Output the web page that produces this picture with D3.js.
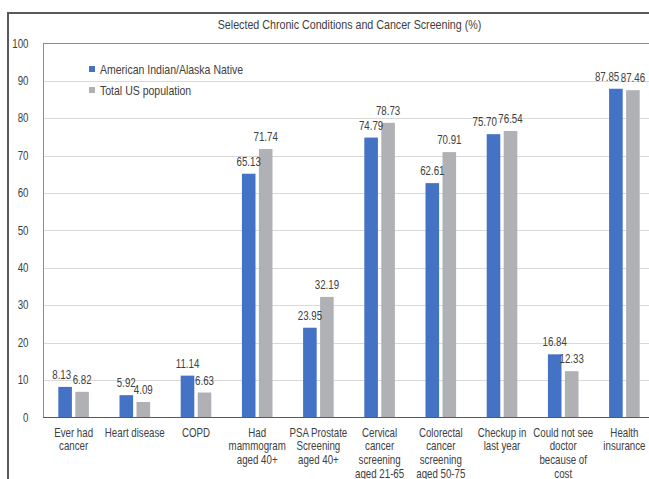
<!DOCTYPE html>
<html>
<head>
<meta charset="utf-8">
<script src="https://cdn.jsdelivr.net/npm/d3@7"></script>
<style>
  html, body { margin: 0; padding: 0; background: #fff; }
  svg { display: block; }
  text { font-family: "Liberation Sans", Arial, sans-serif; }
</style>
</head>
<body>
<svg id="chart" width="649" height="479"></svg>
<script>
const title = "Selected Chronic Conditions and Cancer Screening (%)";
const categories = [
  "Ever had\ncancer",
  "Heart disease",
  "COPD",
  "Had\nmammogram\naged 40+",
  "PSA Prostate\nScreening\naged 40+",
  "Cervical\ncancer\nscreening\naged 21-65",
  "Colorectal\ncancer\nscreening\naged 50-75",
  "Checkup in\nlast year",
  "Could not see\ndoctor\nbecause of\ncost",
  "Health\ninsurance"
];
const seriesNames = ["American Indian/Alaska Native", "Total US population"];
const aianValues = [8.13, 5.92, 11.14, 65.13, 23.95, 74.79, 62.61, 75.70, 16.84, 87.85];
const totalValues = [6.82, 4.09, 6.63, 71.74, 32.19, 78.73, 70.91, 76.54, 12.33, 87.46];
const yTicks = [0, 10, 20, 30, 40, 50, 60, 70, 80, 90, 100];
const colors = ["#4472C4", "#B0B1B5"];

const SX = 0.81; // horizontal condensing to mimic a narrow font
const svg = d3.select("#chart");
const pLeft = 43, pRight = 655, pTop = 43.3, pBottom = 417.3;

const x = d3.scaleBand().domain(categories).range([pLeft, pRight]).paddingInner(0.5).paddingOuter(0.25);
const xs = d3.scaleBand().domain([0, 1]).range([0, x.bandwidth()]).paddingInner(0.2);
const y = d3.scaleLinear().domain([0, 100]).range([pBottom, pTop]);

function narrowText(parent, tx, ty, lines, anchor, size, lineH) {
  const g = parent.append("g").attr("transform", `translate(${tx},${ty}) scale(${SX},1)`);
  const t = g.append("text").attr("text-anchor", anchor).attr("font-size", size).attr("fill", "#404040");
  [].concat(lines).forEach((ln, k) => t.append("tspan").attr("x", 0).attr("y", k * (lineH || 0)).text(ln));
  return { g, t, width: () => t.node().getComputedTextLength() * SX };
}

// outer frame
svg.append("path").attr("d", `M8,479 L8,13 L649,13`).attr("fill", "none")
  .attr("stroke", "#595959").attr("stroke-width", 2);

// title
narrowText(svg, 349.5, 29, title, "middle", 13.2);

// gridlines
svg.append("g").selectAll("line").data(yTicks.filter(d => d > 0 && d < 100)).join("line")
  .attr("x1", pLeft).attr("x2", 649).attr("y1", d => Math.round(y(d)) + 0.5).attr("y2", d => Math.round(y(d)) + 0.5)
  .attr("stroke", "#D9D9D9").attr("stroke-width", 1);

// plot frame (top and left)
svg.append("line").attr("x1", pLeft).attr("x2", 649).attr("y1", Math.round(pTop) + 0.5).attr("y2", Math.round(pTop) + 0.5)
  .attr("stroke", "#8C8C8C").attr("stroke-width", 1);
svg.append("line").attr("x1", pLeft + 0.5).attr("x2", pLeft + 0.5).attr("y1", pTop).attr("y2", pBottom)
  .attr("stroke", "#8C8C8C").attr("stroke-width", 1);

// y tick labels
const yg = svg.append("g");
yTicks.forEach(d => narrowText(yg, 28.5, y(d) + 4.3, String(d), "end", 12));

// bars
const series = [aianValues, totalValues];
const rows = [];
categories.forEach((c, i) => series.forEach((vals, s) => rows.push({ c, s, v: vals[i] })));

svg.append("g").selectAll("rect").data(rows).join("rect")
  .attr("x", d => x(d.c) + xs(d.s))
  .attr("width", xs.bandwidth())
  .attr("y", d => y(d.v))
  .attr("height", d => y(0) - y(d.v))
  .attr("fill", d => colors[d.s]);

// x axis line
svg.append("line").attr("x1", pLeft).attr("x2", 649).attr("y1", Math.round(pBottom) + 0.5).attr("y2", Math.round(pBottom) + 0.5)
  .attr("stroke", "#595959").attr("stroke-width", 1.2);

// data labels (blue label moved left when it would collide with the grey one)
const lg = svg.append("g");
categories.forEach((c, i) => {
  const pos = series.map((vals, s) => ({ cx: x(c) + xs(s) + xs.bandwidth() / 2, by: y(vals[i]) - 8 }));
  const labs = series.map((vals, s) => narrowText(lg, pos[s].cx, pos[s].by, vals[i].toFixed(2), "middle", 12));
  const w0 = labs[0].width(), w1 = labs[1].width();
  const right0 = pos[0].cx + w0 / 2, left1 = pos[1].cx - w1 / 2;
  const overlap = right0 + 1.5 - left1;
  if (Math.abs(pos[0].by - pos[1].by) < 6 && overlap > 0) {
    labs[0].g.attr("transform", `translate(${pos[0].cx - overlap},${pos[0].by}) scale(${SX},1)`);
  }
});

// x category labels
const xl = svg.append("g");
categories.forEach(c => narrowText(xl, x(c) + x.bandwidth() / 2, pBottom + 19.2, c.split("\n"), "middle", 12, 13.8));

// legend
const legend = svg.append("g");
seriesNames.forEach((n, i) => {
  legend.append("rect").attr("x", 89).attr("y", 66 + i * 21).attr("width", 6).attr("height", 6).attr("fill", colors[i]);
  narrowText(legend, 100, 73.6 + i * 21, n, "start", 13);
});
</script>
</body>
</html>
